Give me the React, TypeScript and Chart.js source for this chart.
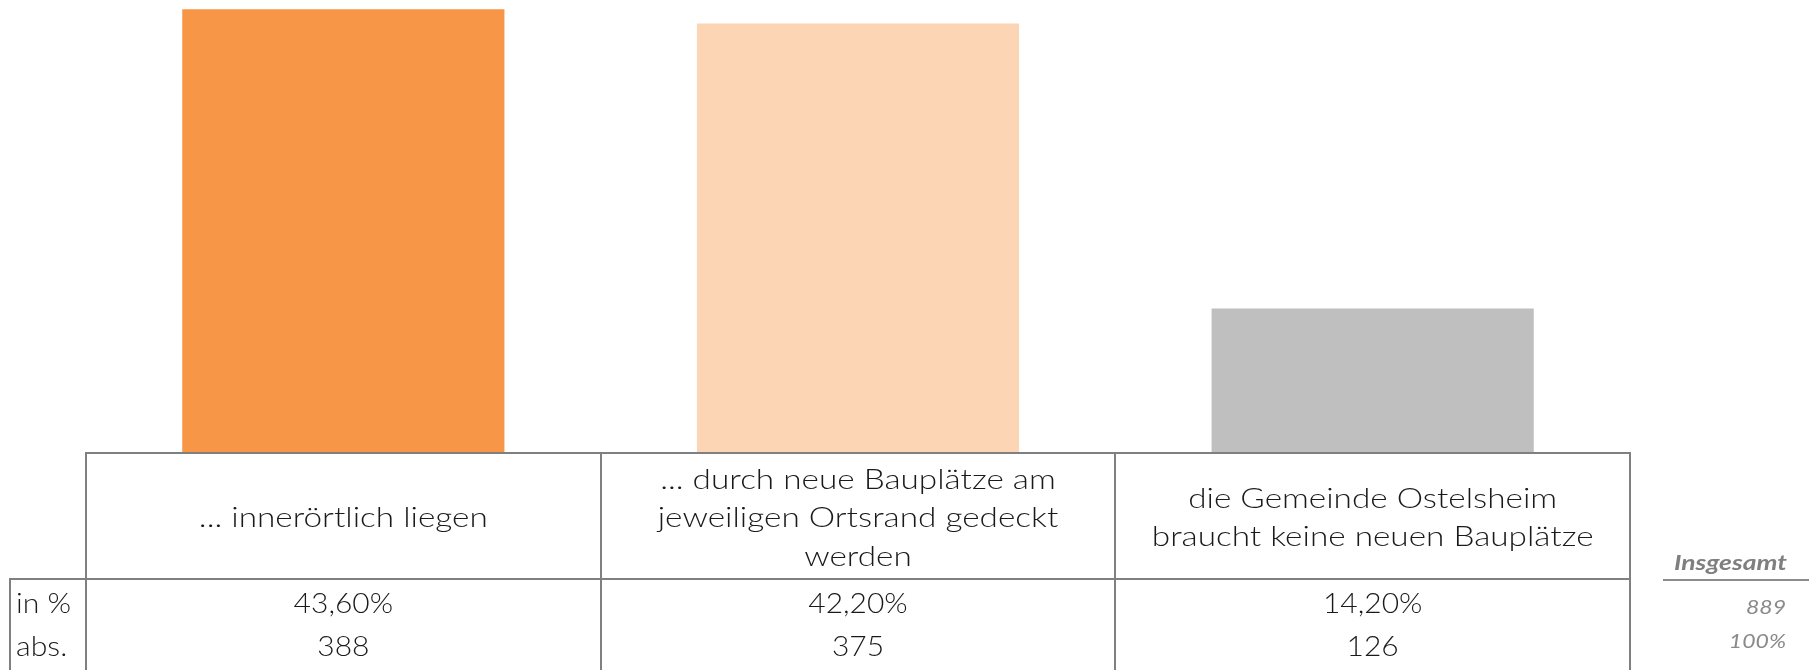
import React, { useEffect, useRef } from "react";
import { Chart, registerables } from "chart.js";

Chart.register(...registerables);

const categories: string[][] = [
  ["... innerörtlich liegen"],
  ["... durch neue Bauplätze am", "jeweiligen Ortsrand gedeckt", "werden"],
  ["die Gemeinde Ostelsheim", "braucht keine neuen Bauplätze"],
];
const percentValues = [43.6, 42.2, 14.2];
const percentLabels = ["43,60%", "42,20%", "14,20%"];
const absValues = ["388", "375", "126"];
const rowLabels = ["in %", "abs."];
const totalTitle = "Insgesamt";
const totalValues = ["889", "100%"];
const barColors = ["#F79646", "#FCD5B5", "#BFBFBF"];

const FONT = "Lato, 'Open Sans', sans-serif";

function drawText(
  ctx: CanvasRenderingContext2D,
  text: string,
  x: number,
  y: number,
  align: CanvasTextAlign,
  sx: number
) {
  ctx.save();
  ctx.translate(x, y);
  ctx.scale(sx, 1);
  ctx.textAlign = align;
  ctx.fillText(text, 0, 0);
  ctx.restore();
}

const tablePlugin = {
  id: "tablePlugin",
  afterDraw(chart: any) {
    const ctx = chart.ctx as CanvasRenderingContext2D;
    const { left, right, bottom } = chart.chartArea;
    const xs = chart.scales.x;
    const n = categories.length;
    const colW = (right - left) / n;
    const H = chart.height;
    const headerBottom = bottom + 126;
    const tableLeft = 10;

    ctx.save();
    ctx.strokeStyle = "#808080";
    ctx.lineWidth = 2;
    ctx.beginPath();
    ctx.moveTo(left - 1, bottom);
    ctx.lineTo(right + 1, bottom);
    for (let i = 0; i <= n; i++) {
      const x = Math.round(left + i * colW);
      ctx.moveTo(x, bottom);
      ctx.lineTo(x, H);
    }
    ctx.moveTo(tableLeft - 1, headerBottom);
    ctx.lineTo(right + 1, headerBottom);
    ctx.moveTo(tableLeft, headerBottom);
    ctx.lineTo(tableLeft, H);
    ctx.stroke();

    ctx.strokeStyle = "#8c8c8c";
    ctx.beginPath();
    ctx.moveTo(1663, headerBottom + 1);
    ctx.lineTo(1809, headerBottom + 1);
    ctx.stroke();

    ctx.fillStyle = "#1a1a1a";
    ctx.textBaseline = "alphabetic";
    ctx.font = `300 28px ${FONT}`;
    const headerMid = bottom + 74;
    const lineH = 38.5;
    categories.forEach((lines, i) => {
      const cx = xs.getPixelForValue(i);
      lines.forEach((t, j) => {
        const y = headerMid + (j - (lines.length - 1) / 2) * lineH;
        drawText(ctx, t, cx, y, "center", 1.19);
      });
    });

    const rowBase = [headerBottom + 34, headerBottom + 77];
    const rows = [percentLabels, absValues];
    rows.forEach((vals, r) => {
      vals.forEach((v, i) => {
        drawText(ctx, v, xs.getPixelForValue(i), rowBase[r], "center", 1.07);
      });
    });
    rowLabels.forEach((t, r) => drawText(ctx, t, 16, rowBase[r], "left", 1.08));

    ctx.fillStyle = "#7f7f7f";
    ctx.font = `italic bold 21px ${FONT}`;
    drawText(ctx, totalTitle, 1787, headerBottom - 9, "right", 1.26);
    ctx.fillStyle = "#8a8a8a";
    ctx.font = `italic 20px ${FONT}`;
    drawText(ctx, totalValues[0], 1786, headerBottom + 35, "right", 1.15);
    drawText(ctx, totalValues[1], 1786, headerBottom + 69, "right", 1.15);
    ctx.restore();
  },
};

export default function App() {
  const ref = useRef<HTMLCanvasElement>(null);
  useEffect(() => {
    document.body.style.margin = "0";
    if (!ref.current) return;
    const chart = new Chart(ref.current, {
      type: "bar",
      data: {
        labels: categories.map((c) => c.join(" ")),
        datasets: [
          {
            data: percentValues,
            backgroundColor: barColors,
            borderWidth: 0,
            barPercentage: 0.626,
            categoryPercentage: 1,
          },
        ],
      },
      options: {
        animation: false,
        responsive: false,
        devicePixelRatio: 1,
        layout: { padding: { left: 86, right: 186, top: 0, bottom: 217 } },
        plugins: { legend: { display: false }, tooltip: { enabled: false } },
        scales: {
          x: { display: false },
          y: { display: false, min: 0, max: 44.5 },
        },
      },
      plugins: [tablePlugin],
    });
    return () => chart.destroy();
  }, []);
  return (
    <div style={{ width: 1816, height: 670, background: "#fff" }}>
      <canvas ref={ref} width={1816} height={670} style={{ display: "block" }} />
    </div>
  );
}
